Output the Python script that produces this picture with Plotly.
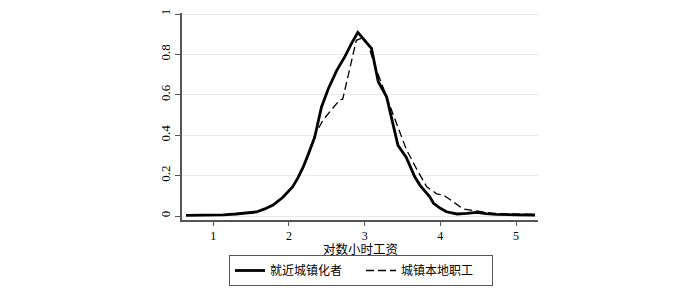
import plotly.graph_objects as go

# Data (kernel density curves)
solid_x = [0.64, 0.8, 1.0, 1.13, 1.3, 1.45, 1.57, 1.68, 1.79, 1.92, 2.05, 2.12, 2.19, 2.26, 2.34,
           2.43, 2.52, 2.63, 2.74, 2.82, 2.91, 3.09, 3.18, 3.29, 3.36, 3.44, 3.55, 3.66, 3.73,
           3.78, 3.86, 3.91, 4.0, 4.08, 4.22, 4.35, 4.48, 4.6, 4.74, 5.0, 5.25]
solid_y = [0.003, 0.003, 0.004, 0.006, 0.01, 0.014, 0.02, 0.035, 0.054, 0.093, 0.145, 0.19, 0.244,
           0.31, 0.39, 0.54, 0.63, 0.72, 0.79, 0.85, 0.909, 0.83, 0.665, 0.59, 0.475, 0.35, 0.29,
           0.195, 0.153, 0.13, 0.095, 0.063, 0.038, 0.021, 0.01, 0.013, 0.018, 0.012, 0.008,
           0.006, 0.005]

dash_x = [0.64, 0.8, 1.0, 1.13, 1.3, 1.45, 1.57, 1.68, 1.79, 1.92, 2.05, 2.12, 2.19, 2.27, 2.34,
          2.45, 2.59, 2.67, 2.71, 2.81, 2.89, 2.96, 3.05, 3.12, 3.2, 3.27, 3.4, 3.55, 3.69, 3.82,
          3.95, 4.04, 4.17, 4.3, 4.48, 4.7, 5.0, 5.25]
dash_y = [0.003, 0.003, 0.004, 0.006, 0.01, 0.014, 0.02, 0.035, 0.054, 0.093, 0.145, 0.19, 0.24,
          0.32, 0.40, 0.475, 0.54, 0.575, 0.578, 0.74, 0.87, 0.88, 0.845, 0.76, 0.68, 0.62, 0.49,
          0.33, 0.23, 0.145, 0.11, 0.104, 0.07, 0.035, 0.025, 0.013, 0.01, 0.008]

series_names = ["就近城镇化者", "城镇本地职工"]
x_ticks = [1, 2, 3, 4, 5]
y_ticks = [0, 0.2, 0.4, 0.6, 0.8, 1]
y_tick_labels = ["0", "0.2", "0.4", "0.6", "0.8", "1"]
x_title = "对数小时工资"

FONT = "Liberation Serif, Noto Sans CJK SC, serif"

fig = go.Figure()
fig.add_trace(go.Scatter(x=solid_x, y=solid_y, mode="lines", name=series_names[0],
                         line=dict(color="black", width=2.8)))
fig.add_trace(go.Scatter(x=dash_x, y=dash_y, mode="lines", name=series_names[1],
                         line=dict(color="black", width=1.3, dash="8px,4px")))

fig.update_layout(
    width=700, height=291,
    margin=dict(l=182, r=162, t=13, b=71, autoexpand=False),
    paper_bgcolor="white", plot_bgcolor="white",
    font=dict(family=FONT, size=13, color="black"),
    showlegend=True,
    legend=dict(orientation="h", xref="container", yref="container",
                x=361 / 700, xanchor="center", y=1 - 255 / 291, yanchor="top",
                bordercolor="#555555", borderwidth=1, bgcolor="white",
                font=dict(family=FONT, size=12), itemwidth=30,
                entrywidth=86, entrywidthmode="pixels",
                tracegroupgap=0),
    annotations=[dict(text=x_title, xref="paper", yref="paper",
                      x=0.5, y=(220 - 249.5) / 207, xanchor="center", yanchor="middle",
                      showarrow=False, font=dict(family=FONT, size=12.5))],
)
fig.update_xaxes(range=[0.587, 5.29], tickvals=x_ticks, ticks="outside", ticklen=4,
                 tickcolor="#555555", showline=True, linecolor="#555555", linewidth=1.5,
                 showgrid=False, zeroline=False, automargin=False,
                 tickfont=dict(size=12))
fig.update_yaxes(range=[-0.0198, 1.005], tickvals=y_ticks, ticktext=y_tick_labels,
                 tickangle=-90, ticks="outside", ticklen=5, tickcolor="#555555",
                 showline=True, linecolor="#555555", linewidth=1.5, automargin=False,
                 showgrid=True, gridcolor="#eaeaea", gridwidth=1, zeroline=False)

fig.write_html("out.html", config={"displayModeBar": False},
               post_script="document.body.style.margin='0px';")
